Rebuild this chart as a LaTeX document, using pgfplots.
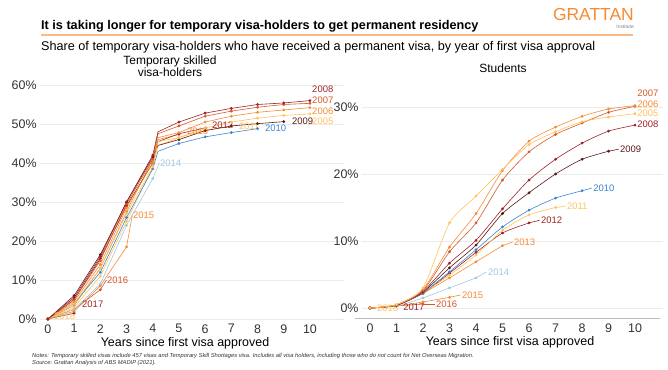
\documentclass[border=0pt]{standalone}
\usepackage{fontspec}
\setmainfont{Liberation Sans}
\usepackage{pgfplots}
\pgfplotsset{compat=1.18}
\definecolor{cyel}{HTML}{FFC35A}
\definecolor{cora}{HTML}{F68B33}
\definecolor{cdor}{HTML}{D4582A}
\definecolor{cred}{HTML}{A02226}
\definecolor{cdrk}{HTML}{5A1A1A}
\definecolor{cblu}{HTML}{3A86D1}
\definecolor{clbl}{HTML}{A3C7DF}
\definecolor{gridc}{HTML}{EBEBEB}
\definecolor{tickc}{HTML}{333333}
\definecolor{axisc}{HTML}{BBBBBB}
\tikzset{lab/.style={font=\fontsize{9.5}{11}\selectfont, text=#1, anchor=west, inner sep=0pt}}
\pgfplotsset{
  ser/.style={color=#1, line width=0.6pt, mark=*, mark size=1.1pt, mark options={solid}},
  panel/.style={scale only axis, clip=false,
    axis line style={draw=none}, tick style={draw=none},
    xtick={0,...,10}, ymajorgrids, grid style={line width=0.6pt, color=gridc},
    yticklabel={\pgfmathprintnumber{\tick}\%},
    tick label style={font=\fontsize{12.5}{14}\selectfont, text=tickc},
    /pgf/number format/assume math mode=true},
}
\begin{document}
\begin{tikzpicture}[x=1bp,y=1bp]
\path[use as bounding box] (0,0) rectangle (668,369);
% header
\node[anchor=west, inner sep=0pt] at (41,343) {\fontsize{12.7}{14}\selectfont\bfseries It is taking longer for temporary visa-holders to get permanent residency};
\draw[cora!60, line width=1.2pt] (41,334) -- (633,334);
\node[anchor=north east, inner sep=0pt, text=cora] at (634,361) {\fontsize{17.5}{17.5}\selectfont GRATTAN};
\node[anchor=east, inner sep=0pt, text=gray] at (634,342) {\fontsize{5}{6}\selectfont Institute};
\node[anchor=west, inner sep=0pt] at (41,322) {\fontsize{12.7}{14}\selectfont Share of temporary visa-holders who have received a permanent visa, by year of first visa approval};
% panel titles
\node[align=center, inner sep=0pt, font=\fontsize{12}{12.5}\selectfont] at (170,303) {Temporary skilled\\visa-holders};
\node[inner sep=0pt, font=\fontsize{12}{12.5}\selectfont] at (503,301) {Students};

% ---------------- left panel
\begin{axis}[panel, at={(40.1bp,46.1bp)}, anchor=south west, width=303.9bp, height=241.8bp,
  xmin=-0.3, xmax=11.3, ymin=-1, ymax=61, ytick={0,10,...,60},
  xticklabel style={yshift=2pt}]
\addplot[ser=cyel] coordinates {(0,0)};
\addplot[ser=cred] coordinates {(0,0)(1,1.5)};
\addplot[ser=cdor] coordinates {(0,0)(1,2.5)(2,7.5)};
\addplot[ser=cora] coordinates {(0,0)(1,2)(2,8.5)(3,18.5)};
\addplot[ser=clbl] coordinates {(0,0)(1,2.5)(2,9)(3,24)(4,36)};
\addplot[ser=cora, mark indices={1,2,3,4,5,7}] coordinates {(0,0)(1,3.5)(2,13)(3,27.5)(4,41)(4.2,46)(5,47.3)};
\addplot[ser=cred, mark indices={1,2,3,4,5,7,8}] coordinates {(0,0)(1,5)(2,15.5)(3,29)(4,40)(4.2,45.5)(5,47.5)(6,49)};
\addplot[ser=cyel, mark indices={1,2,3,4,5,7,8,9}] coordinates {(0,0)(1,3)(2,11)(3,25)(4,39)(4.2,44.5)(5,46.5)(6,48.5)(7,49.3)};
\addplot[ser=cblu, mark indices={1,2,3,4,5,7,8,9,10}] coordinates {(0,0)(1,4)(2,12)(3,26)(4,38.5)(4.2,43)(5,45)(6,46.7)(7,47.8)(8,48.8)};
\addplot[ser=cdrk, mark indices={1,2,3,4,5,7,8,9,10,11}] coordinates {(0,0)(1,6)(2,16.5)(3,30)(4,41.5)(4.2,44.5)(5,46)(6,48.3)(7,49.5)(8,50.1)(9,50.6)};
\addplot[ser=cyel, mark indices={1,2,3,4,5,7,8,9,10,11,12}] coordinates {(0,0)(1,4)(2,13)(3,27)(4,39)(4.2,45.5)(5,46.5)(6,49)(7,50.5)(8,51.5)(9,52.2)(10,52.6)};
\addplot[ser=cora, mark indices={1,2,3,4,5,7,8,9,10,11,12}] coordinates {(0,0)(1,4.5)(2,14)(3,28.5)(4,40)(4.2,46.5)(5,47.8)(6,50.5)(7,52)(8,53)(9,53.6)(10,54.2)};
\addplot[ser=cdor, mark indices={1,2,3,4,5,7,8,9,10,11,12}] coordinates {(0,0)(1,5)(2,15)(3,29.5)(4,41)(4.2,47.5)(5,49.5)(6,52)(7,53.3)(8,54.3)(9,55)(10,55.3)};
\addplot[ser=cred, mark indices={1,2,3,4,5,7,8,9,10,11,12}] coordinates {(0,0)(1,5.5)(2,16)(3,30)(4,42)(4.2,48)(5,50.5)(6,52.8)(7,54)(8,55)(9,55.4)(10,56)};
% labels
\node[lab=cred] at (axis cs:10.08,59) {2008};
\node[lab=cdor] at (axis cs:10.08,56.2) {2007};
\node[lab=cora] at (axis cs:10.08,53.3) {2006};
\node[lab=cyel] at (axis cs:10.08,50.8) {2005};
\node[lab=cdrk] at (axis cs:9.31,50.8) {2009};
\node[lab=cblu] at (axis cs:8.28,49) {2010};
\node[lab=cyel] at (axis cs:7.29,49.5) {2011};
\node[lab=cred] at (axis cs:6.26,49.7) {2012};
\node[lab=cora] at (axis cs:5.3,48.2) {2013};
\draw[clbl, line width=0.6pt] (axis cs:4,36) -- (axis cs:4.25,40);
\node[lab=clbl] at (axis cs:4.27,40) {2014};
\draw[cora, line width=0.6pt] (axis cs:3,18.5) -- (axis cs:3.22,26.7);
\node[lab=cora] at (axis cs:3.24,26.7) {2015};
\draw[cdor, line width=0.6pt] (axis cs:2,7.5) -- (axis cs:2.23,10);
\node[lab=cdor] at (axis cs:2.25,10) {2016};
\node[lab=cred] at (axis cs:1.3,3.8) {2017};
\node[lab=cyel] at (axis cs:0.23,0.8) {2018};
\end{axis}

% ---------------- right panel
\begin{axis}[panel, at={(362.05bp,50.95bp)}, anchor=south west, width=300.8bp, height=224.45bp,
  xmin=-0.3, xmax=11.05, ymin=-1.5, ymax=32, ytick={0,10,20,30},
  xticklabel style={yshift=-2pt}, smooth, tension=0.4]
\addplot[ser=cyel] coordinates {(0,0)};
\addplot[ser=cred] coordinates {(0,0)(1,0.3)};
\addplot[ser=cdor] coordinates {(0,0)(1,0.3)(2,0.6)};
\addplot[ser=cora] coordinates {(0,0)(1,0.3)(2,0.9)(3,1.6)};
\addplot[ser=clbl] coordinates {(0,0)(1,0.3)(2,1.5)(3,3)(4,4.5)};
\addplot[ser=cora] coordinates {(0,0)(1,0.4)(2,2.2)(3,4.5)(4,6.9)(5,9.3)};
\addplot[ser=cred] coordinates {(0,0)(1,0.4)(2,2.2)(3,5.2)(4,8.3)(5,11.2)(6,12.7)};
\addplot[ser=cyel] coordinates {(0,0)(1,0.4)(2,2.3)(3,4.9)(4,7.9)(5,11.6)(6,13.9)(7,15)};
\addplot[ser=cblu] coordinates {(0,0)(1,0.4)(2,2.3)(3,5.4)(4,8.7)(5,12.1)(6,14.6)(7,16.4)(8,17.5)};
\addplot[ser=cdrk] coordinates {(0,0)(1,0.4)(2,2.4)(3,6)(4,9.4)(5,14.1)(6,17.2)(7,20)(8,22.2)(9,23.4)};
\addplot[ser=cred] coordinates {(0,0)(1,0.4)(2,2.5)(3,6.7)(4,10.1)(5,14.8)(6,19.1)(7,22.2)(8,24.6)(9,26.4)(10,27.3)};
\addplot[ser=cdor] coordinates {(0,0)(1,0.5)(2,2.6)(3,8.4)(4,12.7)(5,19.1)(6,23.3)(7,25.9)(8,27.6)(9,29.2)(10,30.1)};
\addplot[ser=cora] coordinates {(0,0)(1,0.5)(2,2.8)(3,9.1)(4,14.1)(5,20.5)(6,24.9)(7,27)(8,28.6)(9,29.7)(10,30.2)};
\addplot[ser=cyel] coordinates {(0,0)(1,0.5)(2,3)(3,12.7)(4,16.7)(5,20.7)(6,24.4)(7,26.3)(8,27.8)(9,28.5)(10,29)};
% labels
\node[lab=cdor] at (axis cs:10.08,32.1) {2007};
\node[lab=cora] at (axis cs:10.08,30.4) {2006};
\node[lab=cyel] at (axis cs:10.08,29.1) {2005};
\node[lab=cred] at (axis cs:10.08,27.5) {2008};
\draw[cdrk, line width=0.6pt] (axis cs:9,23.4) -- (axis cs:9.38,23.7);
\node[lab=cdrk] at (axis cs:9.43,23.7) {2009};
\draw[cblu, line width=0.6pt] (axis cs:8,17.5) -- (axis cs:8.37,17.9);
\node[lab=cblu] at (axis cs:8.42,17.9) {2010};
\draw[cyel, line width=0.6pt] (axis cs:7,15) -- (axis cs:7.38,15.2);
\node[lab=cyel] at (axis cs:7.43,15.2) {2011};
\draw[cred, line width=0.6pt] (axis cs:6,12.7) -- (axis cs:6.4,13.1);
\node[lab=cred] at (axis cs:6.45,13.1) {2012};
\draw[cora, line width=0.6pt] (axis cs:5,9.3) -- (axis cs:5.38,9.85);
\node[lab=cora] at (axis cs:5.43,9.85) {2013};
\draw[clbl, line width=0.6pt] (axis cs:4,4.5) -- (axis cs:4.4,5.4);
\node[lab=clbl] at (axis cs:4.45,5.4) {2014};
\draw[cora, line width=0.6pt] (axis cs:3,1.6) -- (axis cs:3.42,1.94);
\node[lab=cora] at (axis cs:3.47,1.94) {2015};
\draw[cdor, line width=0.6pt] (axis cs:2,0.6) -- (axis cs:2.44,0.6);
\node[lab=cdor] at (axis cs:2.49,0.6) {2016};
\node[lab=cred] at (axis cs:1.25,0.15) {2017};
\node[lab=cyel] at (axis cs:0.26,0) {2018};
\end{axis}
\draw[axisc, line width=0.8pt] (355,51) -- (660,51);

% x labels
\node[inner sep=0pt, font=\fontsize{12.5}{14}\selectfont] at (185,26) {Years since first visa approved};
\node[inner sep=0pt, font=\fontsize{12.5}{14}\selectfont] at (510,27) {Years since first visa approved};
% notes
\node[anchor=west, inner sep=0pt, text=tickc] at (32,13) {\fontsize{5.8}{6.5}\selectfont\itshape Notes: Temporary skilled visas include 457 visas and Temporary Skill Shortages visa. Includes all visa holders, including those who do not count for Net Overseas Migration.};
\node[anchor=west, inner sep=0pt, text=tickc] at (32,6) {\fontsize{5.8}{6.5}\selectfont\itshape Source: Grattan Analysis of ABS MADIP (2021).};
\end{tikzpicture}
\end{document}
